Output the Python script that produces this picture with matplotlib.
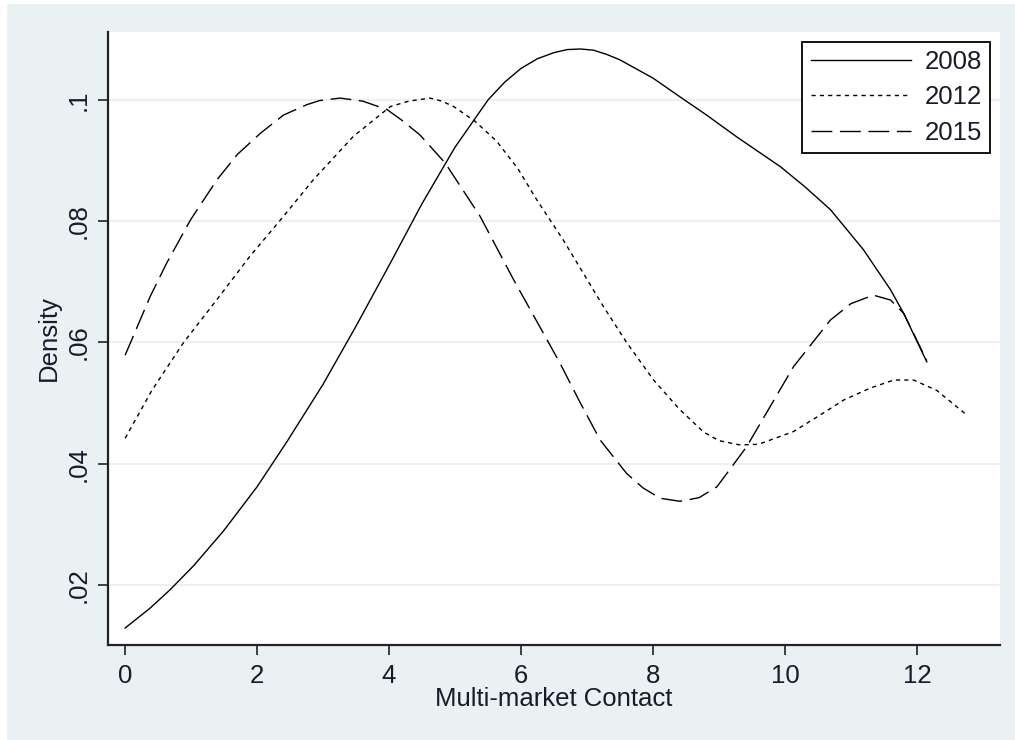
import matplotlib
matplotlib.use("Agg")
import matplotlib.pyplot as plt
from matplotlib.patches import Rectangle

plt.rcParams['font.family'] = ['Liberation Sans', 'DejaVu Sans']
plt.rcParams['lines.scale_dashes'] = False

# ---- data ----
x_2008 = [0, 0.38, 0.68, 1.04, 1.49, 2.0, 2.45, 3.0, 3.5, 4.0, 4.5, 5.0, 5.5, 5.75, 6.0, 6.25,
          6.5, 6.7, 6.9, 7.1, 7.3, 7.5, 8.0, 8.41, 8.8, 9.27, 9.93, 10.3, 10.69, 11.19, 11.6,
          11.8, 12.15]
y_2008 = [0.0129, 0.0162, 0.0192, 0.0232, 0.0289, 0.0362, 0.0436, 0.0531, 0.0627, 0.0727,
          0.0829, 0.0922, 0.1000, 0.1029, 0.1052, 0.1068, 0.1078, 0.1083, 0.1084, 0.1082,
          0.1075, 0.1066, 0.1036, 0.1005, 0.0976, 0.0939, 0.0890, 0.0857, 0.0819, 0.0753,
          0.0687, 0.0648, 0.0568]

x_2012 = [0, 0.4, 0.88, 1.4, 1.89, 2.4, 2.85, 3.46, 4.02, 4.3, 4.62, 4.8, 4.98, 5.3, 5.63,
          5.95, 6.24, 6.64, 7.25, 7.6, 8.01, 8.4, 8.77, 9.0, 9.32, 9.6, 10.13, 10.5, 10.89,
          11.3, 11.65, 11.95, 12.3, 12.76]
y_2012 = [0.0442, 0.0520, 0.0599, 0.0672, 0.0742, 0.0808, 0.0868, 0.0940, 0.0989, 0.0998,
          0.1003, 0.0998, 0.0989, 0.0965, 0.0932, 0.0887, 0.0835, 0.0769, 0.0659, 0.0600,
          0.0538, 0.0490, 0.0452, 0.0438, 0.0431, 0.0432, 0.0453, 0.0478, 0.0505, 0.0525,
          0.0538, 0.0538, 0.0521, 0.0480]

x_2015 = [0, 0.38, 0.63, 0.99, 1.39, 1.7, 2.05, 2.4, 2.75, 2.95, 3.26, 3.6, 3.97, 4.2, 4.47,
          4.85, 5.38, 5.89, 6.34, 6.59, 6.9, 7.2, 7.6, 7.85, 8.11, 8.41, 8.7, 8.97, 9.42,
          10.13, 10.69, 11.0, 11.34, 11.6, 11.8, 12.15]
y_2015 = [0.0579, 0.0676, 0.0731, 0.0802, 0.0868, 0.0910, 0.0945, 0.0975, 0.0992, 0.0999,
          0.1003, 0.0998, 0.0984, 0.0966, 0.0942, 0.0896, 0.0808, 0.0703, 0.0615, 0.0566,
          0.0500, 0.0439, 0.0384, 0.0360, 0.0343, 0.0338, 0.0344, 0.0362, 0.0428, 0.0560,
          0.0637, 0.0664, 0.0678, 0.0670, 0.0648, 0.0570]

series_labels = ["2008", "2012", "2015"]
x_ticks = [0, 2, 4, 6, 8, 10, 12]
x_tick_labels = ["0", "2", "4", "6", "8", "10", "12"]
y_ticks = [0.02, 0.04, 0.06, 0.08, 0.1]
y_tick_labels = [".02", ".04", ".06", ".08", ".1"]
x_title = "Multi-market Contact"
y_title = "Density"

# ---- figure ----
BG = "#EAF1F3"
W, H = 1015, 740
FS = 18.5
fig = plt.figure(figsize=(W / 100, H / 100), dpi=100, facecolor="white")
fig.patches.append(Rectangle((7 / W, 0), 1 - 7 / W, 1 - 4 / H, transform=fig.transFigure,
                             facecolor=BG, edgecolor="none", zorder=-10))

ax = fig.add_axes([108 / W, 1 - 645 / H, (1000 - 108) / W, (645 - 32) / H])
ax.set_facecolor("white")

lw = 1.0
ax.plot(x_2008, y_2008, color="black", lw=lw, linestyle="-", label=series_labels[0])
ax.plot(x_2012, y_2012, color="black", lw=lw, linestyle=(0, (3.0, 3.0)), label=series_labels[1])
ax.plot(x_2015, y_2015, color="black", lw=lw, linestyle=(0, (15.0, 5.5)), label=series_labels[2])

ax.set_xlim(-0.26, 13.26)
ax.set_ylim(0.0101, 0.1112)

ax.set_yticks(y_ticks)
ax.set_yticklabels(y_tick_labels, rotation=90, va="center")
ax.set_xticks(x_ticks)
ax.set_xticklabels(x_tick_labels)

ax.yaxis.grid(True, color=BG, lw=1.6)
ax.set_axisbelow(True)

for s in ["top", "right"]:
    ax.spines[s].set_visible(False)
for s in ["left", "bottom"]:
    ax.spines[s].set_color("#222222")
    ax.spines[s].set_linewidth(1.6)

txtc = "#1a1a2a"
ax.tick_params(axis="both", direction="out", length=7.5, width=1.2, color="#222222",
               labelsize=FS, labelcolor=txtc, pad=6)
ax.tick_params(axis="y", pad=5)

ax.set_xlabel(x_title, fontsize=FS, color=txtc, labelpad=-0.5)
ax.set_ylabel(y_title, fontsize=FS, color=txtc, labelpad=4)

leg = ax.legend(loc="upper right", bbox_to_anchor=(0.989, 0.984), fontsize=FS,
                frameon=True, fancybox=False, edgecolor="black", facecolor="white",
                framealpha=1.0, handlelength=3.9, handletextpad=0.54, labelspacing=0.44,
                borderpad=0.32, borderaxespad=0.0)
leg.get_frame().set_linewidth(1.3)
for t in leg.get_texts():
    t.set_color(txtc)

fig.savefig("out.png", dpi=100, facecolor=fig.get_facecolor())
